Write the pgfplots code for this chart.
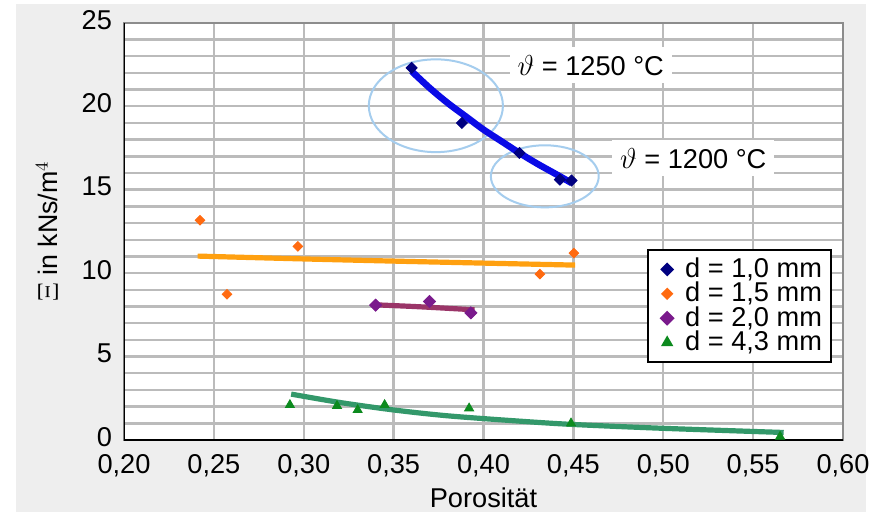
\documentclass[border=0pt]{standalone}
\usepackage{pgfplots}
\pgfplotsset{compat=1.18}
\usepackage{fontspec}
\setmainfont{Liberation Sans}

\definecolor{panel}{HTML}{EEEEEE}
\definecolor{gridc}{HTML}{BBBBBB}
\definecolor{frame}{HTML}{8C8C8C}
\definecolor{navy1}{HTML}{000080}
\definecolor{blue1}{HTML}{0A0AE6}
\definecolor{orange1}{HTML}{FF6A10}
\definecolor{amber1}{HTML}{FFA010}
\definecolor{purple1}{HTML}{7A1A8C}
\definecolor{maroon1}{HTML}{9A3568}
\definecolor{green1}{HTML}{0C8A1E}
\definecolor{sea1}{HTML}{33986A}
\definecolor{ellc}{HTML}{A5CDEE}

\newcommand{\chartfont}{\fontsize{13.6}{15}\selectfont}

\begin{document}
\begin{tikzpicture}
% grey panel behind the chart
\fill[panel] (-54pt,-36pt) rectangle (371pt,218pt);

\begin{axis}[
    scale only axis,
    width=359.5pt, height=208.6pt,
    at={(0,0)}, anchor=south west,
    xmin=0.2, xmax=0.6, ymin=0, ymax=25,
    xtick={0.2,0.25,0.3,0.35,0.4,0.45,0.5,0.55,0.6},
    ytick={0,5,10,15,20,25},
    minor ytick={1,2,3,4,6,7,8,9,11,12,13,14,16,17,18,19,21,22,23,24},
    grid=both,
    major grid style={gridc, line width=1.2pt},
    minor grid style={gridc, line width=1.2pt},
    major tick length=0pt, minor tick length=0pt,
    axis line style={frame, line width=1pt},
    axis background/.style={fill=white},
    tick label style={font=\chartfont, black},
    xticklabel style={/pgf/number format/fixed, /pgf/number format/fixed zerofill,
        /pgf/number format/precision=2, /pgf/number format/use comma,
        /pgf/number format/assume math mode=true, yshift=-3.5pt},
    yticklabel style={/pgf/number format/assume math mode=true, xshift=-2.5pt, yshift=1.5pt},
    xlabel={Porosität},
    ylabel={$\Xi$ in kNs/m$^4$},
    every axis x label/.style={at={(axis description cs:0.5,-0.1606)}, anchor=base, font=\chartfont},
    every axis y label/.style={at={(axis description cs:-0.0918,0.5)}, anchor=base, rotate=90, font=\fontsize{13.4}{15}\selectfont},
    legend style={at={(0.9847,0.1845)}, anchor=south east, draw=black, line width=1pt, fill=white,
        font=\chartfont, inner xsep=3pt, inner ysep=3.6pt, row sep=0pt,
        nodes={inner ysep=0pt, inner xsep=1.5pt, text height=10pt, text depth=2.2pt}},
    legend cell align=left,
    legend image code/.code={\draw[#1, only marks] plot coordinates {(6pt,0pt)}; \path (0pt,0pt) (13pt,0pt);},
]

% highlighted regions
\draw[ellc, line width=1pt] (axis cs:0.3735,20.03) ellipse [x radius=0.0373, y radius=2.78];
\draw[ellc, line width=1pt] (axis cs:0.4341,15.8) ellipse [x radius=0.030, y radius=1.86];

% trend lines
\addplot[blue1, line width=3.3pt, smooth, forget plot] coordinates {
    (0.360,22.1) (0.370,21.1) (0.380,20.2) (0.390,19.4) (0.400,18.6)
    (0.410,17.9) (0.420,17.2) (0.430,16.55) (0.440,15.95) (0.449,15.4)
};
\addplot[amber1, line width=2.6pt, smooth, forget plot] coordinates {
    (0.241,11.02) (0.300,10.85) (0.350,10.72) (0.400,10.6) (0.451,10.48)
};
\addplot[maroon1, line width=2.6pt, smooth, forget plot] coordinates {
    (0.340,8.1) (0.365,7.98) (0.395,7.8)
};
\addplot[sea1, line width=2.6pt, smooth, forget plot] coordinates {
    (0.293,2.75) (0.320,2.25) (0.350,1.8) (0.380,1.45) (0.420,1.13)
    (0.450,0.93) (0.500,0.7) (0.567,0.45)
};

% measured values
\addplot[only marks, mark=square*, mark size=1.95pt, mark options={rotate=45, draw=navy1, fill=navy1}] coordinates {
    (0.360,22.3) (0.388,19.0) (0.420,17.2) (0.4425,15.6) (0.449,15.55)
};
\addlegendentry{d = 1,0 mm}
\addplot[only marks, mark=square*, mark size=1.7pt, mark options={rotate=45, draw=orange1, fill=orange1}] coordinates {
    (0.2423,13.17) (0.2573,8.73) (0.2967,11.6) (0.4314,9.94) (0.4503,11.2)
};
\addlegendentry{d = 1,5 mm}
\addplot[only marks, mark=square*, mark size=2.15pt, mark options={rotate=45, draw=purple1, fill=purple1}] coordinates {
    (0.340,8.08) (0.370,8.3) (0.393,7.62)
};
\addlegendentry{d = 2,0 mm}
\addplot[only marks, mark=triangle*, mark size=2.6pt, mark options={draw=green1, fill=green1}] coordinates {
    (0.2923,2.1) (0.3185,2.05) (0.330,1.8) (0.345,2.1) (0.392,1.9) (0.4487,1.0) (0.565,0.2)
};
\addlegendentry{d = 4,3 mm}

% temperature labels
\node[fill=white, inner xsep=4pt, inner ysep=4pt, font=\chartfont] at (axis cs:0.4597,22.45) {$\vartheta$ = 1250 °C};
\node[fill=white, inner xsep=4pt, inner ysep=4pt, font=\chartfont] at (axis cs:0.5167,16.89) {$\vartheta$ = 1200 °C};

% black left and bottom axis lines
\draw[black, line width=1.5pt] (rel axis cs:0,1) -- (rel axis cs:0,0) -- (rel axis cs:1,0);
\end{axis}

\pgfresetboundingbox
\path (-62pt,-37pt) rectangle (374.5pt,220pt);
\end{tikzpicture}
\end{document}
